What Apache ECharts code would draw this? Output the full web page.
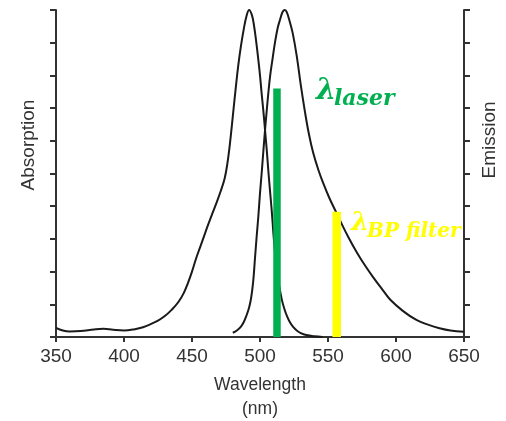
<!DOCTYPE html>
<html>
<head>
<meta charset="utf-8">
<script src="https://cdn.jsdelivr.net/npm/echarts@6/dist/echarts.min.js"></script>
<style>
  html, body { margin: 0; padding: 0; background: #fff; }
  #chart { width: 506px; height: 421px; }
</style>
</head>
<body>
<div id="chart"></div>
<script>
// absorption spectrum (wavelength nm / relative value 0-10)
const absWl = [350, 355, 360, 368, 378, 385, 392, 400, 408, 414, 420, 425, 430, 435, 440, 444, 447, 450, 453, 456, 459, 462, 465, 468, 471, 474, 476, 478, 480, 482, 484, 486, 488, 490, 492, 494, 495.5, 497, 498.8, 500, 501.2, 502.5, 503.7, 505, 506.1, 507.3, 508.6, 509.8, 511, 512.5, 514, 516, 518, 520, 522, 524.5, 527, 530, 534, 540, 546];
const absVal = [0.28, 0.2, 0.17, 0.18, 0.23, 0.25, 0.22, 0.2, 0.24, 0.3, 0.4, 0.5, 0.64, 0.83, 1.07, 1.35, 1.65, 2.0, 2.4, 2.75, 3.1, 3.45, 3.78, 4.1, 4.45, 4.85, 5.3, 5.95, 6.75, 7.55, 8.3, 8.9, 9.4, 9.8, 10, 9.85, 9.55, 9.1, 8.47, 8.0, 7.45, 6.9, 6.33, 5.7, 5.1, 4.5, 3.88, 3.2, 2.6, 2.05, 1.6, 1.15, 0.85, 0.62, 0.45, 0.3, 0.2, 0.12, 0.06, 0.02, 0.0];

// emission spectrum
const emWl = [480, 483, 486, 488, 490, 492, 493.5, 495, 496.3, 497.5, 498.8, 500, 501.2, 502.5, 503.7, 505, 506.1, 507.5, 509.1, 511, 513, 514.7, 516.5, 518, 519.5, 521.5, 524, 527, 530, 533, 536, 539, 543, 547, 551, 555, 559, 565, 571, 577, 583, 590, 596, 605, 615, 624, 632, 640, 650];
const emVal = [0.13, 0.2, 0.32, 0.45, 0.65, 0.9, 1.2, 1.7, 2.4, 3.05, 3.7, 4.4, 5.0, 5.7, 6.33, 6.95, 7.45, 8.0, 8.47, 9.0, 9.45, 9.7, 9.93, 10, 9.95, 9.7, 9.3, 8.6, 7.7, 6.9, 6.2, 5.65, 5.1, 4.65, 4.25, 3.9, 3.55, 3.05, 2.6, 2.2, 1.84, 1.45, 1.13, 0.8, 0.52, 0.37, 0.27, 0.2, 0.16];

// laser line and band-pass filter marks
const laserWl = 512.5;
const laserTop = 7.6;
const bpWl = 556.4;
const bpTop = 3.83;

const xTicks = [350, 400, 450, 500, 550, 600, 650];

const chart = echarts.init(document.getElementById('chart'));

const axisCol = '#333';
const labelFont = 'Liberation Sans, Arial, sans-serif';

function pairs(xs, ys) {
  return xs.map((x, i) => [x, ys[i]]);
}

const yAxisBase = {
  type: 'value',
  min: 0,
  max: 10,
  interval: 1,
  axisLine: { show: true, lineStyle: { color: axisCol, width: 2 } },
  axisTick: { show: true, length: 6, lineStyle: { color: axisCol, width: 2 } },
  axisLabel: { show: false },
  splitLine: { show: false }
};

// rotated side titles (sit above the axis middle, as in the original)
function sideTitle(text, x, y) {
  return {
    type: 'text',
    x: x,
    y: y,
    rotation: Math.PI / 2,
    style: {
      text: text,
      font: '19px ' + labelFont,
      fill: axisCol,
      align: 'center',
      verticalAlign: 'middle',
      textAlign: 'center',
      textVerticalAlign: 'middle'
    }
  };
}

const option = {
  animation: false,
  grid: { left: 56, right: 42, top: 10, bottom: 84, outerBoundsMode: 'none' },
  xAxis: {
    type: 'value',
    min: xTicks[0],
    max: xTicks[xTicks.length - 1],
    interval: 50,
    axisLine: { show: true, lineStyle: { color: axisCol, width: 2 } },
    axisTick: { show: true, length: 5, lineStyle: { color: axisCol, width: 2 } },
    axisLabel: { fontSize: 19, color: axisCol, fontFamily: labelFont, margin: 10 },
    splitLine: { show: false },
    name: 'Wavelength\n(nm)',
    nameLocation: 'middle',
    nameGap: 36,
    nameTextStyle: { fontSize: 17.5, color: axisCol, fontFamily: labelFont, lineHeight: 24 }
  },
  yAxis: [
    Object.assign({}, yAxisBase, { position: 'left' }),
    Object.assign({}, yAxisBase, { position: 'right' })
  ],
  series: [
    {
      name: 'Absorption',
      type: 'line',
      data: pairs(absWl, absVal),
      smooth: 0.4,
      symbol: 'none',
      lineStyle: { color: '#1a1a1a', width: 2 },
      z: 2
    },
    {
      name: 'Emission',
      type: 'line',
      yAxisIndex: 1,
      data: pairs(emWl, emVal),
      smooth: 0.4,
      symbol: 'none',
      lineStyle: { color: '#1a1a1a', width: 2 },
      z: 2
    },
    {
      name: 'laser',
      type: 'line',
      data: [[laserWl, 0], [laserWl, laserTop]],
      symbol: 'none',
      lineStyle: { color: '#00B050', width: 7.5, cap: 'butt' },
      z: 3
    },
    {
      name: 'BP filter',
      type: 'line',
      data: [[bpWl, 0], [bpWl, bpTop]],
      symbol: 'none',
      lineStyle: { color: '#FFFF00', width: 8.5, cap: 'butt' },
      z: 3
    }
  ],
  graphic: [
    sideTitle('Absorption', 29, 145),
    sideTitle('Emission', 490, 140),
    {
      type: 'text', left: 316, top: 77,
      style: { text: 'λ', font: 'bold italic 29px "DejaVu Serif", serif', fill: '#00B050' }
    },
    {
      type: 'text', left: 334, top: 88,
      style: { text: 'laser', font: 'bold italic 22px "DejaVu Serif", serif', fill: '#00B050' }
    },
    {
      type: 'text', left: 351, top: 210,
      style: { text: 'λ', font: 'bold italic 26px "DejaVu Serif", serif', fill: '#FFFF00' }
    },
    {
      type: 'text', left: 367, top: 222,
      style: { text: 'BP filter', font: 'bold italic 20px "DejaVu Serif", serif', fill: '#FFFF00' }
    }
  ]
};

chart.setOption(option);
</script>
</body>
</html>
